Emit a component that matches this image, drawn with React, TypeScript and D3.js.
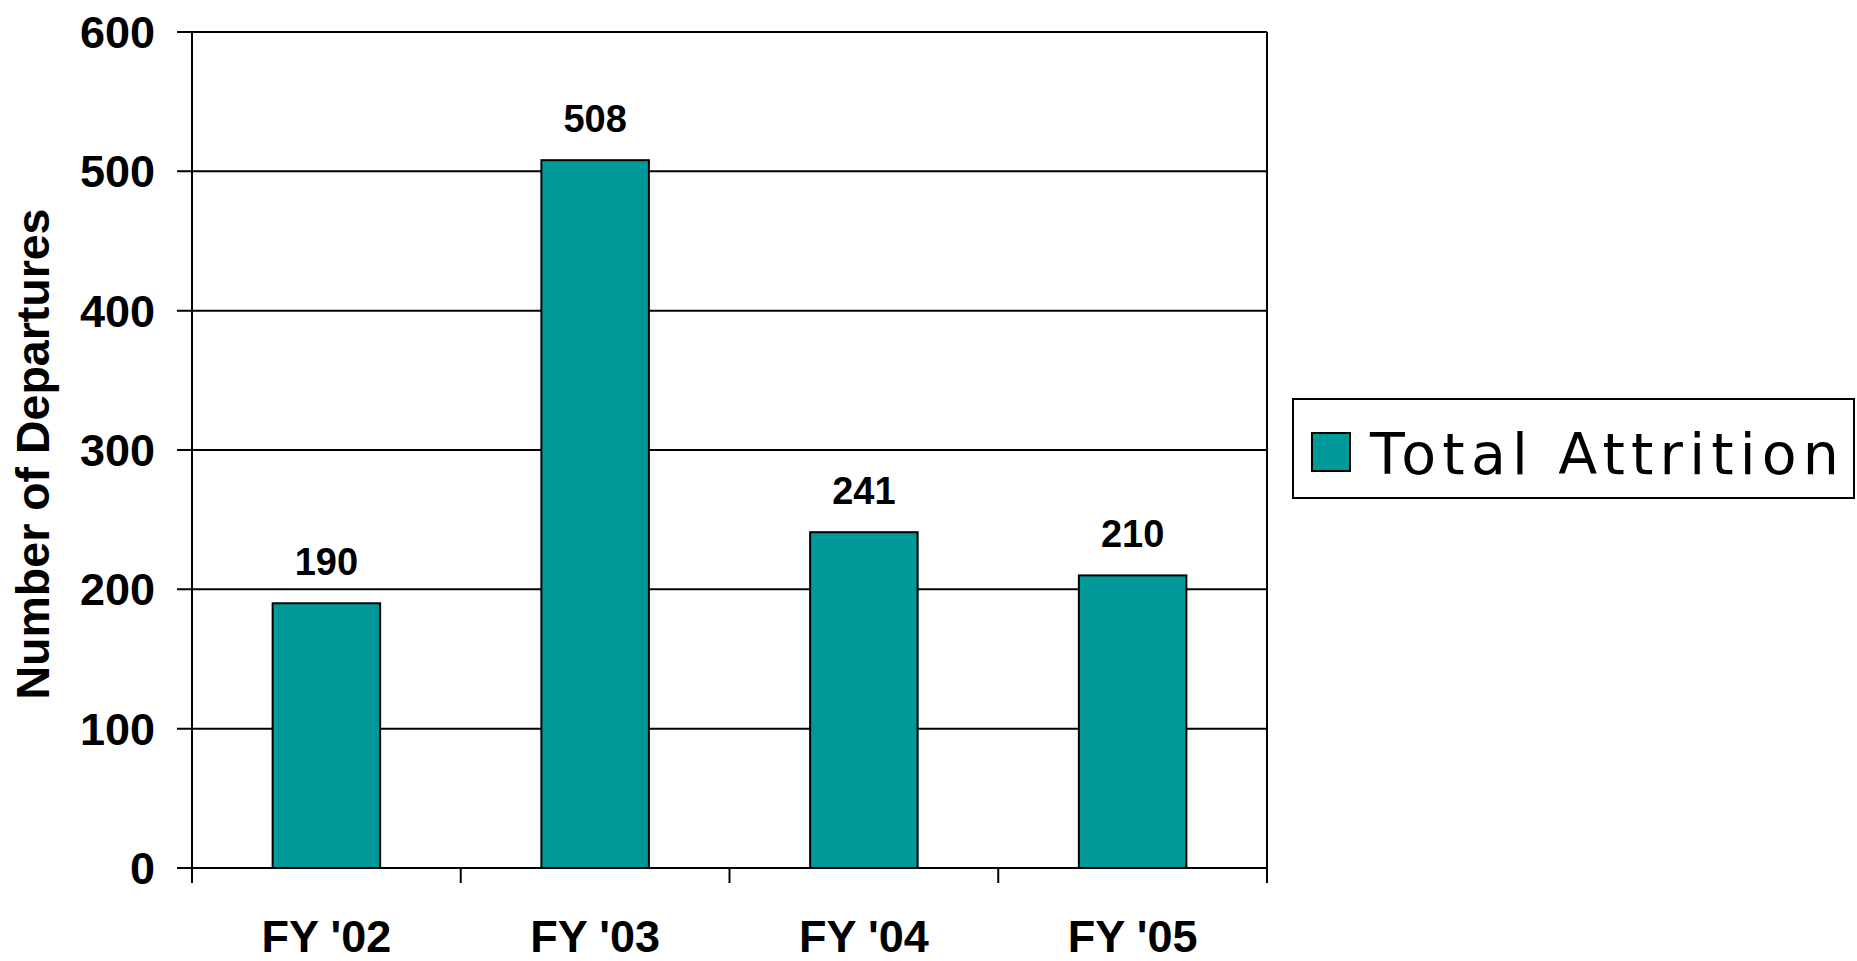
import { useEffect, useRef } from "react";
import * as d3 from "d3";

// Categorias e valores
const CATEGORIAS = ["FY '02", "FY '03", "FY '04", "FY '05"];
const VALORES = [190, 508, 241, 210];
const Y_TICKS = [0, 100, 200, 300, 400, 500, 600];
const SERIE = "Total Attrition";
const TITULO_Y = "Number of Departures";

const COR_BARRA = "#009999";
const FONTE = "'Liberation Sans', Arial, Helvetica, sans-serif";

const WIDTH = 1857;
const HEIGHT = 961;

const App = () => {
  const svgRef = useRef<SVGSVGElement>(null);

  useEffect(() => {
    if (!svgRef.current) return;
    const svg = d3.select(svgRef.current);
    svg.selectAll("*").remove();

    const margin = { top: 32, right: 590, bottom: 93, left: 192 };
    const innerWidth = WIDTH - margin.left - margin.right;
    const innerHeight = HEIGHT - margin.top - margin.bottom;

    const g = svg
      .append("g")
      .attr("transform", `translate(${margin.left},${margin.top})`);

    const xScale = d3
      .scaleBand()
      .domain(CATEGORIAS)
      .range([0, innerWidth])
      .padding(0);

    const yScale = d3.scaleLinear().domain([0, 600]).range([innerHeight, 0]);

    // Grid horizontal (com ticks para a esquerda)
    g.append("g")
      .selectAll("line")
      .data(Y_TICKS)
      .enter()
      .append("line")
      .attr("x1", -15)
      .attr("x2", innerWidth)
      .attr("y1", (d) => yScale(d))
      .attr("y2", (d) => yScale(d))
      .attr("stroke", "#000")
      .attr("stroke-width", 2);

    // Borda esquerda e direita
    g.append("line")
      .attr("x1", 0).attr("x2", 0)
      .attr("y1", 0).attr("y2", innerHeight + 15)
      .attr("stroke", "#000").attr("stroke-width", 2);
    g.append("line")
      .attr("x1", innerWidth).attr("x2", innerWidth)
      .attr("y1", 0).attr("y2", innerHeight + 15)
      .attr("stroke", "#000").attr("stroke-width", 2);

    // Ticks do eixo X nas divisões das categorias
    g.append("g")
      .selectAll("line")
      .data(CATEGORIAS.slice(1))
      .enter()
      .append("line")
      .attr("x1", (d) => xScale(d) ?? 0)
      .attr("x2", (d) => xScale(d) ?? 0)
      .attr("y1", innerHeight)
      .attr("y2", innerHeight + 15)
      .attr("stroke", "#000")
      .attr("stroke-width", 2);

    // Rótulos do eixo Y
    g.append("g")
      .selectAll("text")
      .data(Y_TICKS)
      .enter()
      .append("text")
      .attr("x", -37)
      .attr("y", (d) => yScale(d) + 16)
      .attr("text-anchor", "end")
      .style("font-family", FONTE)
      .style("font-size", "45px")
      .style("font-weight", "bold")
      .text((d) => d);

    // Rótulos do eixo X
    g.append("g")
      .selectAll("text")
      .data(CATEGORIAS)
      .enter()
      .append("text")
      .attr("x", (d) => (xScale(d) ?? 0) + xScale.bandwidth() / 2)
      .attr("y", innerHeight + 84)
      .attr("text-anchor", "middle")
      .style("font-family", FONTE)
      .style("font-size", "45px")
      .style("font-weight", "bold")
      .text((d) => d);

    // Barras
    const larguraBarra = xScale.bandwidth() * 0.4;
    const dados = CATEGORIAS.map((c, i) => ({ categoria: c, valor: VALORES[i] }));

    g.append("g")
      .selectAll("rect")
      .data(dados)
      .enter()
      .append("rect")
      .attr("x", (d) => (xScale(d.categoria) ?? 0) + (xScale.bandwidth() - larguraBarra) / 2)
      .attr("y", (d) => yScale(d.valor))
      .attr("width", larguraBarra)
      .attr("height", (d) => innerHeight - yScale(d.valor))
      .attr("fill", COR_BARRA)
      .attr("stroke", "#000")
      .attr("stroke-width", 2);

    // Valores acima das barras
    g.append("g")
      .selectAll("text")
      .data(dados)
      .enter()
      .append("text")
      .attr("x", (d) => (xScale(d.categoria) ?? 0) + xScale.bandwidth() / 2)
      .attr("y", (d) => yScale(d.valor) - 28)
      .attr("text-anchor", "middle")
      .style("font-family", FONTE)
      .style("font-size", "38px")
      .style("font-weight", "bold")
      .text((d) => d.valor);

    // Título do eixo Y
    svg
      .append("text")
      .attr("transform", "translate(49,454) rotate(-90)")
      .attr("text-anchor", "middle")
      .style("font-family", FONTE)
      .style("font-size", "46.5px")
      .style("font-weight", "bold")
      .text(TITULO_Y);

    // Legenda
    const legenda = svg.append("g").attr("transform", "translate(1293,399)");
    legenda
      .append("rect")
      .attr("x", 0)
      .attr("y", 0)
      .attr("width", 561)
      .attr("height", 99)
      .attr("fill", "#fff")
      .attr("stroke", "#000")
      .attr("stroke-width", 2);
    legenda
      .append("rect")
      .attr("x", 19)
      .attr("y", 34)
      .attr("width", 38)
      .attr("height", 38)
      .attr("fill", COR_BARRA)
      .attr("stroke", "#000")
      .attr("stroke-width", 2);
    legenda
      .append("text")
      .attr("x", 77)
      .attr("y", 75)
      .attr("textLength", 469)
      .attr("lengthAdjust", "spacing")
      .style("font-family", "'DejaVu Sans', Verdana, sans-serif")
      .style("font-size", "57px")
      .text(SERIE);
  }, []);

  return (
    <svg
      ref={svgRef}
      width={WIDTH}
      height={HEIGHT}
      style={{ position: "absolute", left: 0, top: 0, background: "#fff" }}
    />
  );
};

export default App;
